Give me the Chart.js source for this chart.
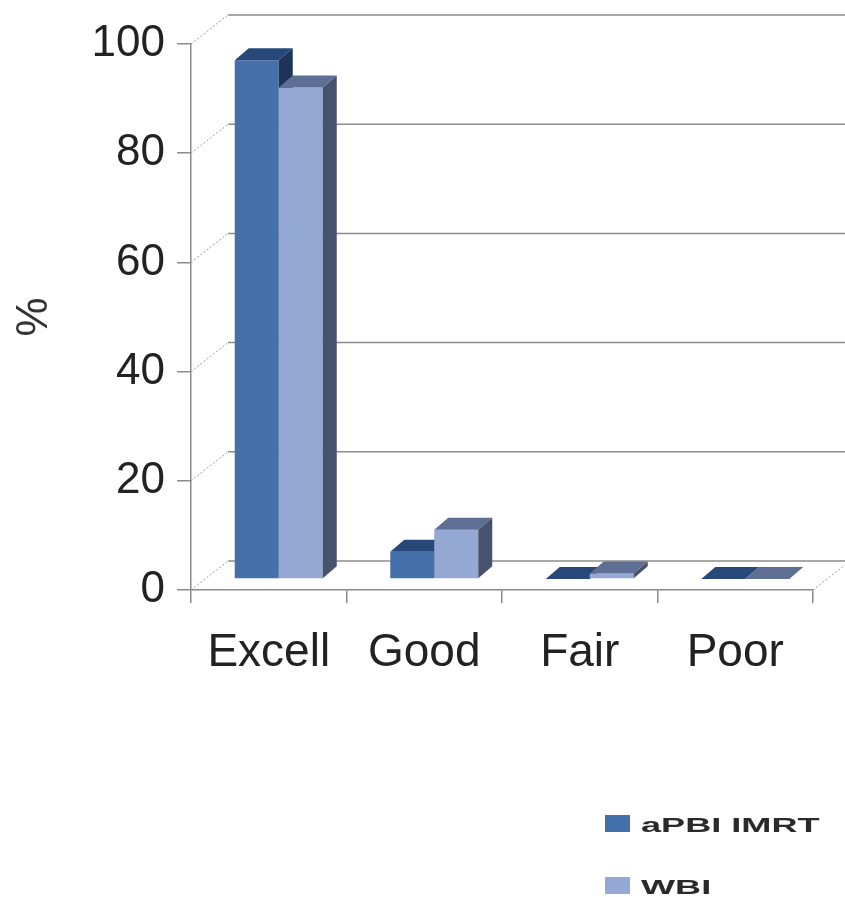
<!DOCTYPE html>
<html>
<head>
<meta charset="utf-8">
<script src="https://cdn.jsdelivr.net/npm/chart.js@4.4.1/dist/chart.umd.min.js"></script>
<style>
  html, body { margin: 0; padding: 0; background: #ffffff; }
  canvas { display: block; }
</style>
</head>
<body>
<canvas id="chart" width="845" height="897"></canvas>
<script>
// Cosmetic outcome by category (%)
const categories = ['Excell', 'Good', 'Fair', 'Poor'];
const seriesNames = ['aPBI IMRT', 'WBI'];
const apbiValues = [95, 5, 0, 0];
const wbiValues = [90, 9, 1, 0];
const yTickValues = [0, 20, 40, 60, 80, 100];

// Face colours for the two series: front, top, side
const faceColours = [
  { front: '#4471AA', top: '#29487A', side: '#1E3558' },
  { front: '#93A8D2', top: '#5E6F93', side: '#46526E' }
];

const FONT = '"Liberation Sans", Arial, sans-serif';
const FRAME_DEPTH = { x: 37, y: -29 };   // back wall offset from the front plane
const BAR_SHIFT = { x: 10, y: -11 };     // bar front faces sit a little behind the front plane
const BAR_DEPTH = { x: 14, y: -12 };     // thickness of each column

// Back wall, side wall and floor of the 3D frame
const frame3d = {
  id: 'frame3d',
  beforeDatasetsDraw(chart) {
    const { ctx, chartArea, scales } = chart;
    const y = scales.y;
    const { left, right } = chartArea;
    ctx.save();
    yTickValues.forEach(v => {
      const py = y.getPixelForValue(v);
      // diagonal on the side wall
      ctx.beginPath();
      ctx.setLineDash([2, 2]);
      ctx.strokeStyle = '#9a9a9a';
      ctx.lineWidth = 1;
      ctx.moveTo(left, py);
      ctx.lineTo(left + FRAME_DEPTH.x, py + FRAME_DEPTH.y);
      ctx.stroke();
      // line across the back wall
      ctx.beginPath();
      ctx.setLineDash([]);
      ctx.strokeStyle = '#8c8c8c';
      ctx.lineWidth = 1.5;
      ctx.moveTo(left + FRAME_DEPTH.x, py + FRAME_DEPTH.y);
      ctx.lineTo(right + FRAME_DEPTH.x + 10, py + FRAME_DEPTH.y);
      ctx.stroke();
    });
    // right edge of the floor
    const p0 = y.getPixelForValue(0);
    ctx.beginPath();
    ctx.setLineDash([2, 2]);
    ctx.strokeStyle = '#9a9a9a';
    ctx.lineWidth = 1;
    ctx.moveTo(right, p0);
    ctx.lineTo(right + FRAME_DEPTH.x, p0 + FRAME_DEPTH.y);
    ctx.stroke();
    ctx.restore();
  }
};

// Columns drawn as boxes: library front face, then top and right side
const columns3d = {
  id: 'columns3d',
  beforeDatasetsDraw(chart) {
    const { ctx } = chart;
    const metas = chart.data.datasets.map((_, i) => chart.getDatasetMeta(i));
    ctx.save();
    ctx.translate(BAR_SHIFT.x, BAR_SHIFT.y);
    categories.forEach((_, i) => {
      metas.forEach((meta, d) => {
        const el = meta.data[i];
        if (!el) return;
        const { x, y, base, width } = el.getProps(['x', 'y', 'base', 'width'], true);
        const l = x - width / 2, r = x + width / 2;
        const c = faceColours[d];
        el.draw(ctx);
        // top face
        ctx.beginPath();
        ctx.moveTo(l, y);
        ctx.lineTo(r, y);
        ctx.lineTo(r + BAR_DEPTH.x, y + BAR_DEPTH.y);
        ctx.lineTo(l + BAR_DEPTH.x, y + BAR_DEPTH.y);
        ctx.closePath();
        ctx.fillStyle = c.top;
        ctx.fill();
        // right side face
        ctx.beginPath();
        ctx.moveTo(r, y);
        ctx.lineTo(r + BAR_DEPTH.x, y + BAR_DEPTH.y);
        ctx.lineTo(r + BAR_DEPTH.x, base + BAR_DEPTH.y);
        ctx.lineTo(r, base);
        ctx.closePath();
        ctx.fillStyle = c.side;
        ctx.fill();
      });
    });
    ctx.restore();
    return false;
  }
};

// Stacked legend in the lower right corner
const cornerLegend = {
  id: 'cornerLegend',
  afterDraw(chart) {
    const { ctx } = chart;
    const rows = [832, 894];
    ctx.save();
    chart.data.datasets.forEach((ds, i) => {
      const base = rows[i];
      ctx.fillStyle = ds.backgroundColor;
      ctx.fillRect(605, base - 17, 25, 17);
      ctx.save();
      ctx.translate(641, base);
      ctx.scale(1.72, 1);
      ctx.font = 'bold 21px ' + FONT;
      ctx.fillStyle = '#2a2a2a';
      ctx.textBaseline = 'alphabetic';
      ctx.fillText(ds.label, 0, 0);
      ctx.restore();
    });
    ctx.restore();
  }
};

new Chart(document.getElementById('chart'), {
  type: 'bar',
  data: {
    labels: categories,
    datasets: [
      { label: seriesNames[0], data: apbiValues, backgroundColor: faceColours[0].front, borderWidth: 0 },
      { label: seriesNames[1], data: wbiValues, backgroundColor: faceColours[1].front, borderWidth: 0 }
    ]
  },
  options: {
    responsive: false,
    animation: false,
    layout: { padding: { top: 44, right: 32, bottom: 0, left: 0 } },
    datasets: { bar: { categoryPercentage: 0.566, barPercentage: 1 } },
    plugins: {
      legend: { display: false },
      tooltip: { enabled: false }
    },
    scales: {
      x: {
        grid: { offset: true, drawOnChartArea: false, drawTicks: true, tickLength: 13, color: '#8a8a8a', lineWidth: 1.5 },
        border: { display: true, color: '#8a8a8a', width: 1.5 },
        ticks: { padding: 23, color: '#222222', font: { family: FONT, size: 46 }, maxRotation: 0 },
        afterFit(scale) { scale.height = 307; }
      },
      y: {
        min: 0,
        max: 100,
        afterBuildTicks(scale) { scale.ticks = yTickValues.map(v => ({ value: v })); },
        grid: { drawOnChartArea: false, drawTicks: true, tickLength: 14, color: '#8a8a8a', lineWidth: 1.5 },
        border: { display: true, color: '#8a8a8a', width: 1.5 },
        ticks: { padding: 12, color: '#222222', font: { family: FONT, size: 44 } },
        title: { display: true, text: '%', color: '#333333', font: { family: FONT, size: 44 }, padding: { top: 8, bottom: 0 } },
        afterFit(scale) { scale.width = 191; }
      }
    }
  },
  plugins: [frame3d, columns3d, cornerLegend]
});
</script>
</body>
</html>
